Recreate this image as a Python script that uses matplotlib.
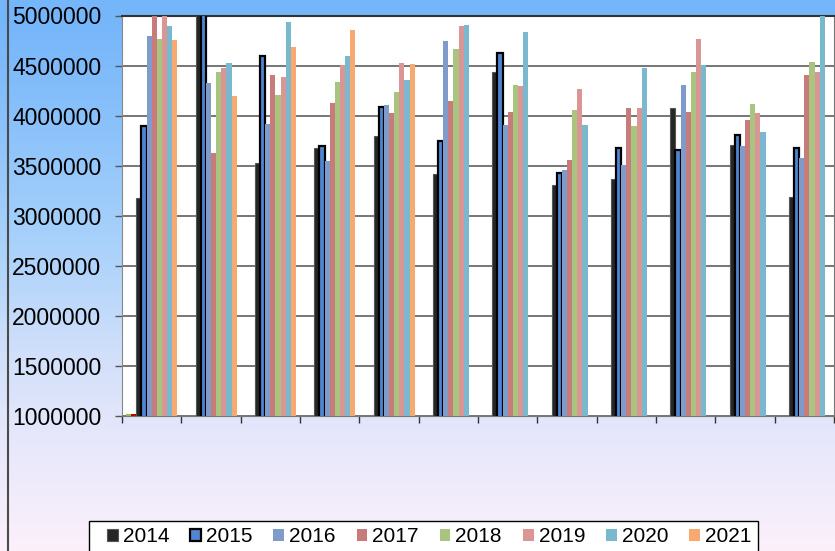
import numpy as np
import matplotlib
matplotlib.use('Agg')
import matplotlib.pyplot as plt
from matplotlib.patches import Rectangle
from matplotlib.ticker import FuncFormatter

plt.rcParams['font.family'] = ['Liberation Sans', 'DejaVu Sans']

years = ['2014', '2015', '2016', '2017', '2018', '2019', '2020', '2021']
n_groups = 12

# values per year, one entry per category (nan = no bar)
v2014 = [3180000, 5100000, 3530000, 3677000, 3797000, 3417000, 4437000, 3310000, 3370000, 4080000, 3710000, 3187000]
v2015 = [3893000, 5100000, 4593000, 3697000, 4083000, 3750000, 4623000, 3427000, 3673000, 3657000, 3807000, 3673000]
v2016 = [4800000, 4327000, 3920000, 3543000, 4110000, 4750000, 3903000, 3460000, 3507000, 4310000, 3697000, 3580000]
v2017 = [5100000, 3627000, 4407000, 4127000, 4030000, 4143000, 4037000, 3560000, 4080000, 4037000, 3960000, 4407000]
v2018 = [4767000, 4437000, 4210000, 4333000, 4240000, 4663000, 4307000, 4057000, 3900000, 4437000, 4117000, 4540000]
v2019 = [5100000, 4477000, 4390000, 4503000, 4530000, 4897000, 4300000, 4270000, 4073000, 4767000, 4023000, 4433000]
v2020 = [4897000, 4527000, 4937000, 4597000, 4353000, 4910000, 4840000, 3910000, 4473000, 4503000, 3833000, 5100000]
v2021 = [4757000, 4200000, 4690000, 4857000, 4520000, np.nan, np.nan, np.nan, np.nan, np.nan, np.nan, np.nan]
series = [v2014, v2015, v2016, v2017, v2018, v2019, v2020, v2021]

# two unlabeled series that only barely show in the first category
hidden_a = [1015000] + [np.nan] * 11
hidden_b = [1015000] + [np.nan] * 11

colors = ['#262626', '#4f86d2', '#7f9bc9', '#c87b7b', '#a9c47f', '#d99694', '#79b8cd', '#f7a96f']
edges = ['#555555', 'black', 'none', 'none', 'none', 'none', 'none', 'none']
lws = [0.8, 1.6, 0, 0, 0, 0, 0, 0]

fig = plt.figure(figsize=(8.35, 5.51), dpi=100)

# background gradient
stops_y = [0.0, 0.03, 0.2, 0.45, 0.62, 0.76, 1.0]
stops_c = np.array([[117, 181, 250], [117, 181, 250], [135, 192, 250], [170, 210, 250],
                    [205, 222, 250], [226, 230, 250], [252, 240, 251]]) / 255.0
yy = np.linspace(0, 1, 551)
grad = np.stack([np.interp(yy, stops_y, stops_c[:, k]) for k in range(3)], axis=-1)
grad = np.repeat(grad[:, None, :], 4, axis=1)
bg = fig.add_axes([0, 0, 1, 1], zorder=-1)
bg.imshow(grad, aspect='auto', extent=[0, 1, 0, 1], origin='upper')
bg.axvline(7.5 / 835, color='#4a4a4a', lw=1.5)
bg.set_xlim(0, 1)
bg.set_ylim(0, 1)
bg.axis('off')

ax = fig.add_axes([122 / 835, (551 - 416) / 551, (834 - 122) / 835, (416 - 15.5) / 551])
ax.set_facecolor('white')

w = 1 / 11.5
x = np.arange(n_groups) + 0.5
ax.bar(x + (0 - 4.5) * w, hidden_a, w, bottom=0, color='#8fbf4f', label='_nolegend_', zorder=3)
ax.bar(x + (1 - 4.5) * w, hidden_b, w, bottom=0, color='#c00000', label='_nolegend_', zorder=3)
for j, (yr, vals) in enumerate(zip(years, series)):
    ax.bar(x + (j + 2 - 4.5) * w, vals, w, color=colors[j], edgecolor=edges[j],
           linewidth=lws[j], label=yr, zorder=3)

ax.set_xlim(0, n_groups)
ax.set_ylim(1000000, 5000000)
ax.set_yticks(np.arange(1000000, 5000001, 500000))
ax.yaxis.set_major_formatter(FuncFormatter(lambda v, p: '%d' % v))
ax.set_xticks(np.arange(0, n_groups + 1))
ax.set_xticklabels([])
ax.tick_params(axis='y', direction='out', length=5, width=1, color='#555555',
               labelsize=16.5, pad=10)
ax.tick_params(axis='x', direction='out', length=5, width=1, color='#333333')
ax.grid(axis='y', color='#6b6b6b', lw=1.3)
ax.set_axisbelow(True)
ax.spines['top'].set_color('#333333')
ax.spines['top'].set_linewidth(1.5)
ax.spines['right'].set_color('#777777')
ax.spines['left'].set_color('#888888')
ax.spines['bottom'].set_color('#777777')

# legend box (drawn separately so the padding matches)
fig.patches.append(Rectangle((89 / 835, -0.01), (758 - 89) / 835, (551 - 521) / 551 + 0.01,
                             transform=fig.transFigure, facecolor='white',
                             edgecolor='black', lw=1.0, zorder=1))
leg = fig.legend(loc='center left', bbox_to_anchor=(107 / 835, (551 - 537) / 551),
                 ncol=8, fontsize=15, frameon=False,
                 handlelength=0.52, handleheight=0.52, handletextpad=0.24,
                 columnspacing=1.0, borderpad=0, borderaxespad=0)
leg.set_zorder(2)

fig.savefig('out.png', dpi=100)
